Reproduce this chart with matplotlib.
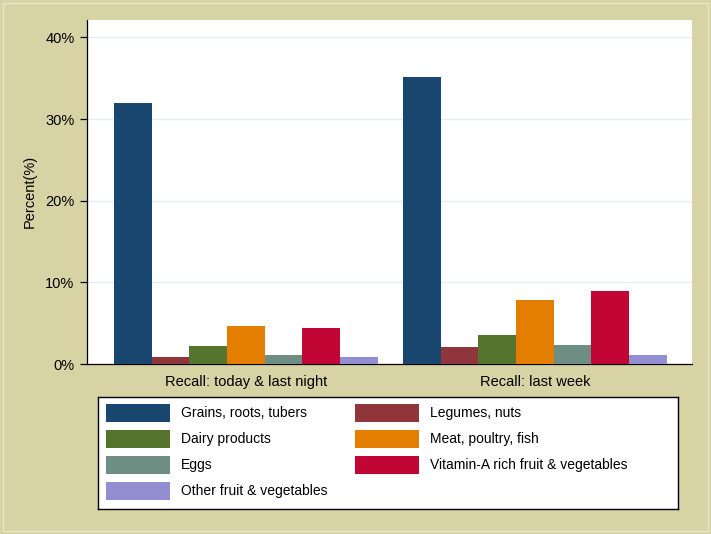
import matplotlib.pyplot as plt
import matplotlib.patches as patches
import numpy as np

plt.rcParams['font.family'] = ['Liberation Sans', 'DejaVu Sans']

# data
groups = ['Recall: today & last night', 'Recall: last week']
food_groups = ['Grains, roots, tubers', 'Legumes, nuts', 'Dairy products',
               'Meat, poultry, fish', 'Eggs', 'Vitamin-A rich fruit & vegetables',
               'Other fruit & vegetables']
today_night = [32.0, 0.9, 2.2, 4.6, 1.1, 4.4, 0.8]
last_week = [35.2, 2.1, 3.55, 7.85, 2.3, 8.95, 1.15]
colors = ['#1A476F', '#90353B', '#55752F', '#E37E00', '#6E8E84', '#C10534', '#938DD2']
yticks = [0, 10, 20, 30, 40]

W, H = 711, 534
bg = '#D7D3A5'

fig = plt.figure(figsize=(W / 100, H / 100), dpi=100, facecolor=bg)
ax = fig.add_axes([87 / W, 1 - 364 / H, (692 - 87) / W, (364 - 19.5) / H])
ax.set_facecolor('white')

values = np.array([today_night, last_week])
n = len(food_groups)
bw = 0.1303
x = np.arange(len(groups))
bars = []
for i in range(n):
    offs = (i - (n - 1) / 2) * bw
    b = ax.bar(x + offs, values[:, i], width=bw, color=colors[i],
               edgecolor='none', zorder=3, label=food_groups[i])
    bars.append(b)

ax.set_xlim(-0.549, 1.544)
ax.set_ylim(0, 42.2)
ax.set_yticks(yticks)
ax.set_yticklabels([f'{t}%' for t in yticks], fontsize=10.5)
ax.set_xticks(x)
ax.set_xticklabels(groups, fontsize=10.5)
ax.tick_params(axis='x', length=0, pad=8)
ax.tick_params(axis='y', length=5, width=0.9, pad=4)
ax.grid(axis='y', color='#E4EEF0', linewidth=1, zorder=0)
for s in ['top', 'right']:
    ax.spines[s].set_visible(False)
for s in ['left', 'bottom']:
    ax.spines[s].set_linewidth(0.9)
    ax.spines[s].set_color('black')

fig.text(30 / W, 1 - 191 / H, 'Percent(%)', rotation=90, va='center',
         ha='center', fontsize=10.5)

# legend box
lax = fig.add_axes([98.3 / W, 1 - 508.7 / H, (678.3 - 98.3) / W, (508.7 - 396.7) / H])
lax.set_facecolor('white')
lax.set_xticks([])
lax.set_yticks([])
for s in lax.spines.values():
    s.set_linewidth(1)
    s.set_color('black')

order = [0, 2, 4, 6, 1, 3, 5]
fig.legend([bars[i] for i in order], [food_groups[i] for i in order],
           ncol=2, loc='upper left', bbox_to_anchor=(106 / W, 1 - 404 / H),
           frameon=False, fontsize=10, handlelength=4.6, handleheight=1.6,
           handletextpad=0.8, labelspacing=0.58, columnspacing=2.0,
           borderpad=0, borderaxespad=0)

fig.patches.append(patches.Rectangle((3 / W, 3 / H), (W - 6) / W, (H - 6) / H,
                                     transform=fig.transFigure, fill=False,
                                     edgecolor='#E9E6CC', linewidth=1))

fig.savefig('out.png', dpi=100, facecolor=bg)
